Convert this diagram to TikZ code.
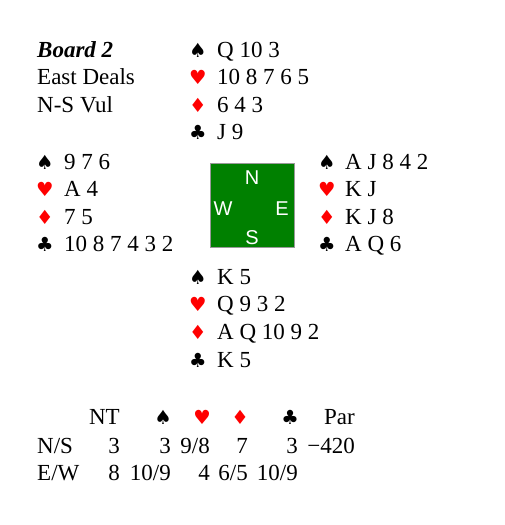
\documentclass[tikz,border=0pt]{standalone}
\usepackage{fontspec}
\setmainfont{Liberation Serif}
\newfontfamily\symfont{DejaVu Sans}
\newfontfamily\dirfont{Liberation Sans}
\definecolor{suitred}{RGB}{255,0,0}
\definecolor{tablegreen}{RGB}{0,128,0}
\newcommand\tf{\fontsize{23}{27}\selectfont}
\newcommand\symsize{\fontsize{19.5}{22}\selectfont\symfont}
\newcommand\Sp{{\symsize ♠}}
\newcommand\He{{\symsize\color{suitred}♥}}
\newcommand\Di{{\symsize\color{suitred}♦}}
\newcommand\Cl{{\symsize ♣}}
\begin{document}
\begin{tikzpicture}[x=1pt,y=-1pt,
  txt/.style={font=\tf, anchor=base west, inner sep=0pt},
  sym/.style={anchor=base west, inner sep=0pt},
  rt/.style={font=\tf, anchor=base east, inner sep=0pt},
  dir/.style={font=\fontsize{20}{22}\selectfont\dirfont, text=white, inner sep=0pt, anchor=base}]
\useasboundingbox (0,0) rectangle (504,525);
% header
\node[txt] (board) at (37,57) {\textbf{\textit{Board 2}}};
\node[txt] (deal) at (37,84.5) {East Deals};
\node[txt] (vul) at (37,112) {N-S Vul};
% North
\node[sym] (ns) at (189,57) {\Sp};
\node[sym] (nh) at (189,84.5) {\He};
\node[sym] (nd) at (189,112) {\Di};
\node[sym] (nc) at (189,139.5) {\Cl};
\node[txt] (nst) at (217,57) {Q 10 3};
\node[txt] (nht) at (217,84.5) {10 8 7 6 5};
\node[txt] (ndt) at (217,112) {6 4 3};
\node[txt] (nct) at (217,139.5) {J 9};
% West
\node[sym] (ws) at (36,169) {\Sp};
\node[sym] (wh) at (36,196.5) {\He};
\node[sym] (wd) at (36,224) {\Di};
\node[sym] (wc) at (36,251.5) {\Cl};
\node[txt] (wst) at (64,169) {9 7 6};
\node[txt] (wht) at (64,196.5) {A 4};
\node[txt] (wdt) at (64,224) {7 5};
\node[txt] (wct) at (64,251.5) {10 8 7 4 3 2};
% East
\node[sym] (es) at (318,169) {\Sp};
\node[sym] (eh) at (318,196.5) {\He};
\node[sym] (ed) at (318,224) {\Di};
\node[sym] (ec) at (318,251.5) {\Cl};
\node[txt] (est) at (345,169) {A J 8 4 2};
\node[txt] (eht) at (345,196.5) {K J};
\node[txt] (edt) at (345,224) {K J 8};
\node[txt] (ect) at (345,251.5) {A Q 6};
% compass
\draw[fill=tablegreen, draw=gray!80, line width=0.8pt] (210,163) rectangle (294,247);
\node[dir] (cn) at (252,184.5) {N};
\node[dir] (cw) at (223,215) {W};
\node[dir] (ce) at (282,215) {E};
\node[dir] (cs) at (252,244) {S};
% South
\node[sym] (ss) at (189,284) {\Sp};
\node[sym] (sh) at (189,311.5) {\He};
\node[sym] (sd) at (189,339) {\Di};
\node[sym] (sc) at (189,367) {\Cl};
\node[txt] (sst) at (217,284) {K 5};
\node[txt] (sht) at (217,311.5) {Q 9 3 2};
\node[txt] (sdt) at (217,339) {A Q 10 9 2};
\node[txt] (sct) at (217,367) {K 5};
% table
\node[rt] (hnt) at (120,424) {NT};
\node[anchor=base east, inner sep=0pt] (hs) at (172,424) {\Sp};
\node[anchor=base east, inner sep=0pt] (hh) at (211,424) {\He};
\node[anchor=base east, inner sep=0pt] (hd) at (249,424) {\Di};
\node[anchor=base east, inner sep=0pt] (hc) at (299,424) {\Cl};
\node[rt] (hpar) at (355,424) {Par};
\node[txt] (rns) at (37,453) {N/S};
\node[rt] (ns1) at (120,453) {3};
\node[rt] (ns2) at (171,453) {3};
\node[rt] (ns3) at (210,453) {9/8};
\node[rt] (ns4) at (248,453) {7};
\node[rt] (ns5) at (298,453) {3};
\node[rt] (ns6) at (355,453) {−420};
\node[txt] (rew) at (37,480) {E/W};
\node[rt] (ew1) at (120,480) {8};
\node[rt] (ew2) at (171,480) {10/9};
\node[rt] (ew3) at (210,480) {4};
\node[rt] (ew4) at (248,480) {6/5};
\node[rt] (ew5) at (298,480) {10/9};
\end{tikzpicture}
\end{document}
